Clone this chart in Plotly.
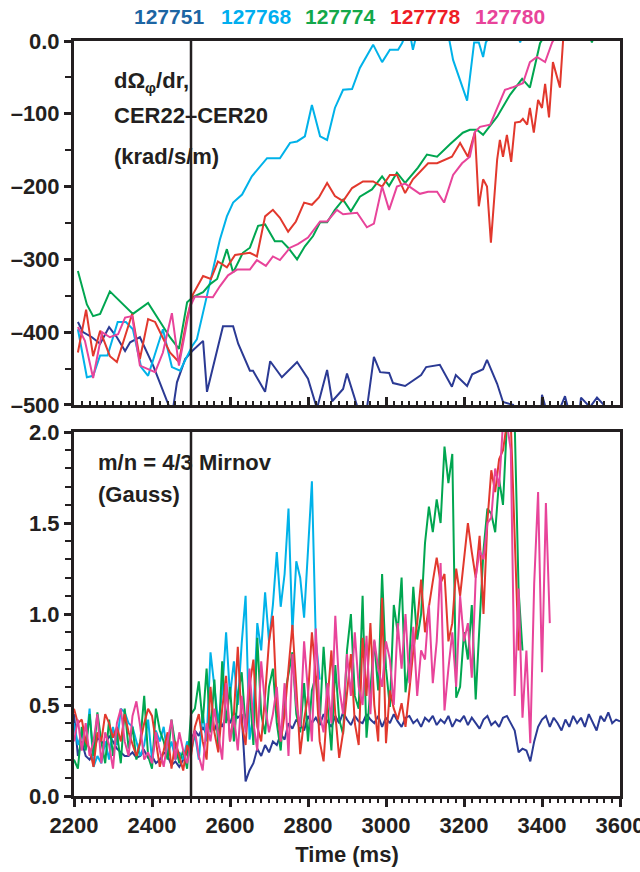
import plotly.graph_objects as go

FONT = "Liberation Sans, Arial, Helvetica, sans-serif"

shots = ["127751", "127768", "127774", "127778", "127780"]
line_colors = ["#2b3a94", "#00b2e9", "#00a650", "#e2382d", "#e8449a"]
label_colors = ["#1c65a3", "#00aeef", "#13a84a", "#ee1d25", "#e8449a"]

t_marker = 2500

# ---------------- top panel: dOmega/dr (krad/s/m) ----------------
t_top_751 = [2210, 2223, 2246, 2267, 2290, 2310, 2331, 2344, 2369, 2403, 2446, 2454, 2464, 2485, 2503,
             2531, 2541, 2567, 2582, 2608, 2621, 2651, 2659, 2690, 2703, 2733, 2772, 2800, 2823, 2849,
             2862, 2890, 2900, 2928, 2951, 2969, 2985, 3008, 3018, 3049, 3067, 3090, 3103, 3138, 3169,
             3179, 3208, 3221, 3249, 3259, 3285, 3300, 3326, 3340, 3395, 3400, 3410, 3446, 3459, 3467,
             3497, 3500, 3523, 3541, 3569]
v_top_751 = [-386, -400, -407, -416, -393, -407, -426, -414, -407, -446, -505, -505, -469, -437, -426,
             -412, -482, -427, -392, -392, -416, -453, -453, -482, -440, -462, -441, -464, -505, -452,
             -495, -478, -457, -505, -505, -434, -455, -456, -470, -474, -467, -459, -448, -445, -475,
             -459, -474, -458, -451, -438, -471, -496, -500, -540, -540, -486, -505, -505, -488, -505,
             -505, -490, -503, -490, -506]

t_top_768 = [2210, 2233, 2249, 2267, 2286, 2312, 2333, 2351, 2372, 2390, 2428, 2451, 2472, 2503, 2515,
             2541, 2574, 2592, 2608, 2631, 2656, 2695, 2728, 2754, 2772, 2792, 2810, 2831, 2849, 2869,
             2890, 2913, 2933, 2967, 2990, 3010, 3031, 3041, 3050, 3062, 3069, 3078, 3160, 3172, 3208,
             3226, 3238, 3249, 3256, 3268, 3338, 3344, 3350, 3370]
v_top_768 = [-396, -462, -460, -432, -432, -386, -386, -396, -448, -460, -396, -448, -453, -419, -410,
             -350, -273, -241, -222, -211, -186, -161, -161, -140, -138, -131, -88, -131, -136, -92,
             -67, -66, -37, -5, -29, -12, -12, -3, 8, 8, -12, 8, 8, -26, -82,
             -2, -2, -22, -2, 8, 8, -2, 8, 8]

t_top_774 = [2210, 2233, 2249, 2267, 2292, 2351, 2390, 2446, 2469, 2490, 2505, 2531, 2549, 2567, 2592,
             2608, 2633, 2651, 2672, 2690, 2715, 2733, 2749, 2772, 2792, 2813, 2831, 2849, 2869, 2890,
             2910, 2933, 2964, 2990, 3008, 3028, 3049, 3082, 3105, 3131, 3164, 3197, 3215, 3233, 3249,
             3285, 3318, 3349, 3369, 3382, 3395, 3410, 3520, 3528, 3535]
v_top_774 = [-316, -362, -378, -375, -344, -375, -360, -407, -423, -359, -352, -345, -334, -327, -286,
             -318, -291, -284, -254, -252, -275, -275, -284, -300, -282, -268, -249, -249, -232, -218,
             -234, -214, -204, -186, -199, -181, -195, -174, -156, -159, -142, -126, -122, -122, -129,
             -104, -74, -52, -64, -35, -3, 10, 10, -2, 10]

t_top_778 = [2210, 2231, 2249, 2267, 2292, 2310, 2349, 2369, 2390, 2408, 2446, 2469, 2490, 2505, 2531,
             2551, 2569, 2592, 2613, 2651, 2669, 2690, 2710, 2728, 2749, 2769, 2790, 2810, 2828, 2849,
             2869, 2890, 2913, 2941, 2967, 2990, 3010, 3028, 3049, 3069, 3108, 3131, 3169, 3190, 3210,
             3228, 3238, 3249, 3259, 3269, 3285, 3292, 3300, 3310, 3321, 3331, 3344, 3351, 3362, 3369,
             3379, 3390, 3400, 3408, 3418, 3428, 3446, 3454, 3465]
v_top_778 = [-428, -369, -433, -398, -433, -441, -375, -437, -382, -386, -428, -441, -380, -348, -323,
             -327, -303, -311, -294, -291, -296, -241, -232, -243, -262, -248, -222, -225, -215, -195,
             -213, -220, -202, -193, -193, -200, -184, -184, -209, -190, -168, -168, -159, -140, -159,
             -125, -227, -190, -200, -277, -163, -136, -159, -129, -166, -112, -111, -107, -115, -92,
             -126, -81, -92, -59, -105, -29, -64, 0, 10]

t_top_780 = [2210, 2228, 2249, 2272, 2292, 2313, 2331, 2349, 2369, 2408, 2428, 2451, 2469, 2497, 2510,
             2536, 2556, 2574, 2595, 2618, 2651, 2669, 2692, 2710, 2728, 2754, 2774, 2800, 2831, 2849,
             2874, 2890, 2926, 2951, 2969, 2990, 3008, 3028, 3049, 3087, 3108, 3131, 3149, 3172, 3195,
             3215, 3228, 3241, 3267, 3305, 3323, 3351, 3369, 3387, 3408, 3426, 3440]
v_top_780 = [-393, -412, -463, -400, -407, -403, -380, -378, -446, -455, -428, -374, -446, -366, -351,
             -352, -352, -337, -322, -314, -314, -301, -309, -296, -301, -284, -279, -270, -248, -248,
             -232, -238, -236, -256, -251, -200, -232, -200, -196, -210, -207, -207, -222, -184, -168,
             -159, -125, -118, -115, -67, -64, -58, -29, -22, -29, -2, 10]

# ---------------- bottom panel: m/n = 4/3 Mirnov (Gauss), 10 ms samples from 2200 ms ----------------
t0_bottom = 2200
dt_bottom = 10

b_751 = [0.45, 0.22, 0.30, 0.22, 0.20, 0.24, 0.32, 0.30, 0.28, 0.33,
         0.30, 0.26, 0.24, 0.22, 0.22, 0.24, 0.21, 0.22, 0.25, 0.21,
         0.22, 0.18, 0.20, 0.24, 0.22, 0.17, 0.19, 0.16, 0.20, 0.24,
         0.30, 0.36, 0.33, 0.38, 0.34, 0.40, 0.36, 0.42, 0.38, 0.44,
         0.40, 0.46, 0.43, 0.45, 0.08, 0.14, 0.18, 0.26, 0.22, 0.28,
         0.24, 0.30, 0.28, 0.34, 0.31, 0.40, 0.37, 0.42, 0.39, 0.36,
         0.44, 0.40, 0.43, 0.39, 0.45, 0.41, 0.38, 0.44, 0.40, 0.46,
         0.42, 0.39, 0.44, 0.41, 0.40, 0.45, 0.42, 0.40, 0.44, 0.38,
         0.43, 0.40, 0.45, 0.41, 0.38, 0.43, 0.44, 0.40, 0.42, 0.38,
         0.43, 0.41, 0.44, 0.39, 0.42, 0.40, 0.44, 0.38, 0.42, 0.41,
         0.44, 0.39, 0.43, 0.40, 0.37, 0.42, 0.44, 0.39, 0.41, 0.38,
         0.43, 0.44, 0.40, 0.36, 0.24, 0.26, 0.25, 0.19, 0.30, 0.38,
         0.42, 0.44, 0.38, 0.43, 0.40, 0.36, 0.42, 0.38, 0.44, 0.40,
         0.43, 0.38, 0.45, 0.40, 0.36, 0.44, 0.41, 0.46, 0.40, 0.42,
         0.41]

b_768 = [0.40, 0.28, 0.35, 0.26, 0.48, 0.16, 0.22, 0.18, 0.30, 0.20,
         0.38, 0.28, 0.48, 0.46, 0.40, 0.38, 0.30, 0.22, 0.28, 0.42,
         0.20, 0.36, 0.30, 0.38, 0.22, 0.30, 0.20, 0.24, 0.20, 0.30,
         0.24, 0.34, 0.20, 0.46, 0.30, 0.79, 0.60, 0.40, 0.57, 0.90,
         0.55, 0.74, 0.50, 0.84, 1.10, 0.31, 0.45, 0.95, 0.80, 1.12,
         0.85, 1.05, 1.34, 1.04, 1.22, 1.58, 0.90, 1.29, 1.20, 0.98,
         1.35, 1.73, 0.86, 0.64]

b_774 = [0.20, 0.15, 0.38, 0.25, 0.45, 0.22, 0.46, 0.30, 0.18, 0.42,
         0.22, 0.35, 0.18, 0.48, 0.26, 0.38, 0.20, 0.30, 0.55, 0.22,
         0.15, 0.48, 0.36, 0.30, 0.20, 0.42, 0.28, 0.18, 0.25, 0.15,
         0.45, 0.48, 0.63, 0.40, 0.70, 0.35, 0.64, 0.26, 0.74, 0.40,
         0.60, 0.30, 0.55, 0.68, 0.38, 0.60, 0.28, 0.87, 0.45, 0.34,
         0.60, 0.70, 0.40, 0.25, 0.55, 0.68, 0.79, 0.45, 0.35, 0.62,
         0.30, 0.58, 0.66, 0.40, 0.82, 0.50, 0.25, 0.72, 0.42, 0.34,
         0.80, 1.00, 0.55, 0.48, 1.10, 0.32, 0.60, 0.85, 0.58, 1.22,
         0.70, 0.49, 1.05, 0.90, 1.20, 0.57, 0.75, 1.15, 0.86, 1.00,
         1.39, 1.59, 1.45, 1.63, 1.50, 1.92, 1.72, 1.88, 0.54, 0.60,
         0.90, 0.75, 1.05, 0.53, 0.95, 1.35, 1.58, 1.55, 1.45, 1.74,
         1.60, 2.05, 2.05, 2.05, 1.13, 0.80]

b_778 = [0.48, 0.40, 0.42, 0.30, 0.26, 0.16, 0.35, 0.30, 0.45, 0.40,
         0.32, 0.38, 0.30, 0.45, 0.35, 0.28, 0.22, 0.30, 0.40, 0.48,
         0.44, 0.30, 0.16, 0.25, 0.35, 0.15, 0.30, 0.22, 0.14, 0.28,
         0.22, 0.38, 0.45, 0.30, 0.20, 0.60, 0.35, 0.24, 0.48, 0.66,
         0.30, 0.45, 0.82, 0.40, 0.28, 0.60, 0.75, 0.38, 0.30, 0.55,
         0.85, 0.99, 0.50, 0.30, 0.45, 0.70, 0.94, 0.60, 0.23, 0.42,
         0.55, 0.90, 0.66, 0.30, 0.19, 0.52, 0.80, 0.45, 0.21, 0.35,
         0.57, 0.78, 0.40, 0.28, 0.87, 0.55, 0.95, 0.50, 0.30, 1.09,
         0.29, 0.58, 0.48, 0.42, 0.51, 0.38, 0.58, 0.80, 0.95, 1.19,
         0.90, 1.05, 1.18, 1.31, 1.17, 1.22, 0.85, 0.95, 1.25, 1.10,
         1.30, 1.50, 1.34, 1.20, 1.43, 1.00, 1.51, 1.79, 1.67, 1.85,
         1.90, 2.05, 2.05, 1.40, 0.80]

b_780 = [0.30, 0.42, 0.25, 0.40, 0.22, 0.30, 0.45, 0.18, 0.35, 0.28,
         0.15, 0.40, 0.48, 0.30, 0.22, 0.44, 0.52, 0.38, 0.20, 0.24,
         0.18, 0.35, 0.25, 0.16, 0.30, 0.42, 0.20, 0.35, 0.25, 0.18,
         0.28, 0.36, 0.22, 0.14, 0.40, 0.30, 0.48, 0.35, 0.20, 0.62,
         0.30, 0.44, 0.25, 0.55, 0.35, 0.70, 0.40, 0.25, 0.74, 0.50,
         0.35, 0.45, 0.60, 0.30, 0.62, 0.22, 0.78, 0.50, 0.38, 0.85,
         0.55, 0.30, 0.92, 0.45, 0.35, 0.62, 0.40, 0.99, 0.60, 0.45,
         0.78, 0.55, 0.90, 0.60, 0.50, 0.88, 0.45, 0.86, 0.70, 0.60,
         0.85, 0.75, 0.50, 0.95, 0.70, 1.00, 0.62, 0.93, 0.55, 0.80,
         0.75, 1.05, 0.62, 0.85, 1.28, 0.47, 0.70, 0.90, 0.60, 1.10,
         0.85, 0.95, 0.65, 1.20, 1.35, 1.30, 1.50, 1.53, 1.80, 1.70,
         2.05, 2.05, 1.90, 0.55, 1.14, 0.43, 0.80, 0.29, 1.17, 1.67,
         0.68, 1.61, 0.95]

top_series = [(t_top_751, v_top_751), (t_top_768, v_top_768), (t_top_774, v_top_774),
              (t_top_778, v_top_778), (t_top_780, v_top_780)]
bottom_series = [b_751, b_768, b_774, b_778, b_780]

fig = go.Figure()
for name, col, (tt, vv) in zip(shots, line_colors, top_series):
    fig.add_trace(go.Scatter(x=tt, y=vv, mode="lines", name=name,
                             line=dict(color=col, width=2), xaxis="x", yaxis="y",
                             showlegend=False))
for name, col, vals in zip(shots, line_colors, bottom_series):
    tt = [t0_bottom + dt_bottom * i for i in range(len(vals))]
    fig.add_trace(go.Scatter(x=tt, y=vals, mode="lines", name=name,
                             line=dict(color=col, width=2), xaxis="x2", yaxis="y2",
                             showlegend=False))

TXT = "#231f20"
tick_font = dict(family=FONT, size=22, color=TXT, weight="bold")
axis_common = dict(showline=True, linecolor=TXT, linewidth=3, mirror=True, automargin=False,
                   showgrid=False, zeroline=False, tickcolor=TXT, tickwidth=2.5,
                   ticklabeloverflow="allow")

top_vals = [0, -100, -200, -300, -400, -500]
top_text = ["0.0", "–100", "–200", "–300", "–400", "–500"]

fig.update_layout(
    width=640, height=872,
    margin=dict(l=74, r=20, t=41, b=76),
    paper_bgcolor="white", plot_bgcolor="white",
    font=dict(family=FONT, color=TXT),
    xaxis=dict(domain=[0, 1], anchor="y", range=[2200, 3600], tickmode="linear", tick0=2200, dtick=200,
               ticks="inside", ticklen=8, showticklabels=False,
               minor=dict(dtick=20, ticks="inside", ticklen=4, tickwidth=2, tickcolor=TXT),
               **axis_common),
    yaxis=dict(domain=[0.518, 1], anchor="x", range=[-500, 0], tickmode="array",
               tickvals=top_vals, ticktext=top_text, ticks="outside", ticklen=7, tickfont=tick_font,
               minor=dict(tickmode="array", tickvals=[-50, -150, -250, -350, -450], ticks="outside",
                          ticklen=6, tickwidth=2, tickcolor=TXT),
               **axis_common),
    xaxis2=dict(domain=[0, 1], anchor="y2", range=[2200, 3600], tickmode="linear", tick0=2200, dtick=200,
                ticks="outside", ticklen=8, tickfont=tick_font,
                title=dict(text="Time (ms)", font=dict(family=FONT, size=22, color=TXT, weight="bold"),
                           standoff=10),
                minor=dict(dtick=20, ticks="outside", ticklen=4, tickwidth=2, tickcolor=TXT),
                **axis_common),
    yaxis2=dict(domain=[0, 0.482], anchor="x2", range=[0, 2.0], tickmode="linear", tick0=0, dtick=0.5,
                tickformat=".1f", ticks="outside", ticklen=7, tickfont=tick_font,
                minor=dict(dtick=0.1, ticks="outside", ticklen=6, tickwidth=2, tickcolor=TXT),
                **axis_common),
)

# vertical marker line at 2500 ms in both panels
for xr, yr in (("x", "y domain"), ("x2", "y2 domain")):
    fig.add_shape(type="line", xref=xr, yref=yr, x0=t_marker, x1=t_marker, y0=0, y1=1,
                  line=dict(color=TXT, width=2.5), layer="above")

# header "legend" of shot numbers
legend_x = [169, 256, 340, 425, 510]
for s, c, px in zip(shots, label_colors, legend_x):
    fig.add_annotation(text=s, x=(px - 74) / 546, y=(796 - 16) / 755, xref="paper", yref="paper",
                       showarrow=False, xanchor="center", yanchor="middle",
                       font=dict(family=FONT, size=21, color=c, weight="bold"))

ann_font = dict(family=FONT, size=22, color=TXT, weight="bold")
panel_text = [
    ("dΩ<sub>φ</sub>/dr,", 112, 82),
    ("CER22–CER20", 112, 115),
    ("(krad/s/m)", 112, 156),
    ("m/n = 4/3 Mirnov", 96, 462),
    ("(Gauss)", 96, 494),
]
for txt, px, py in panel_text:
    fig.add_annotation(text=txt, x=(px - 74) / 546, y=(796 - py) / 755, xref="paper", yref="paper",
                       showarrow=False, xanchor="left", yanchor="middle", font=ann_font)

fig.write_html("out.html")
